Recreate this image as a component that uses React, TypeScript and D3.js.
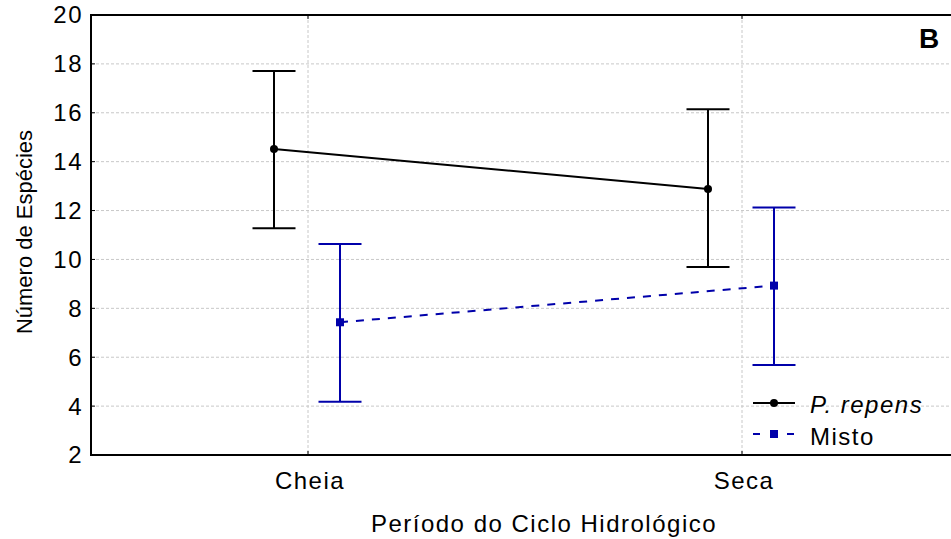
import React from "react";
import * as d3 from "d3";

const categories = ["Cheia", "Seca"];
const yTicks = [2, 4, 6, 8, 10, 12, 14, 16, 18, 20];
const repensMean = [14.52, 12.88];
const repensLow = [11.28, 9.69];
const repensHigh = [17.71, 16.14];
const mistoMean = [7.43, 8.93];
const mistoLow = [4.18, 5.68];
const mistoHigh = [10.63, 12.13];
const seriesNames = ["P. repens", "Misto"];

const W = 951;
const H = 539;
const left = 91;
const right = 959;
const top = 15;
const bottom = 455;
const FONT = "Arial, 'Liberation Sans', sans-serif";
const BLUE = "#0000AA";

export default function App() {
  const x = d3.scalePoint<string>().domain(categories).range([left, right]).padding(0.5);
  const y = d3.scaleLinear().domain([2, 20]).range([bottom, top]);
  const off = [-34, 32];
  const capW = 21.5;

  const lineGen = d3
    .line<number>()
    .x((_, i) => (x(categories[i]) as number))
    .y((d) => y(d));

  const series = [
    { mean: repensMean, low: repensLow, high: repensHigh, color: "#000", dash: undefined, marker: "circle", off: off[0] },
    { mean: mistoMean, low: mistoLow, high: mistoHigh, color: BLUE, dash: "8,8", marker: "square", off: off[1] },
  ];

  return (
    <svg
      width={W}
      height={H}
      style={{ position: "absolute", left: 0, top: 0, background: "#fff" }}
      fontFamily={FONT}
    >
      {/* grid */}
      {yTicks
        .filter((t) => t > 2 && t < 20)
        .map((t) => (
          <line key={"gy" + t} x1={left} x2={right} y1={y(t)} y2={y(t)} stroke="#c8c8c8" strokeWidth={1} strokeDasharray="3,2" />
        ))}
      {categories.map((c) => (
        <line key={"gx" + c} x1={x(c)} x2={x(c)} y1={top} y2={bottom} stroke="#c8c8c8" strokeWidth={1} strokeDasharray="3,2" />
      ))}

      {/* ticks */}
      {yTicks.map((t) => (
        <line key={"ty" + t} x1={left} x2={left + 4} y1={y(t)} y2={y(t)} stroke="#000" strokeWidth={1} />
      ))}
      {categories.map((c) => (
        <g key={"tx" + c}>
          <line x1={x(c)} x2={x(c)} y1={bottom} y2={bottom - 4} stroke="#000" strokeWidth={1} />
          <line x1={x(c)} x2={x(c)} y1={top} y2={top + 4} stroke="#000" strokeWidth={1} />
        </g>
      ))}

      {/* frame */}
      <rect x={left} y={top} width={right - left} height={bottom - top} fill="none" stroke="#000" strokeWidth={2} />

      {/* series */}
      {series.map((s, si) => {
        const xs = categories.map((c) => (x(c) as number) + s.off);
        const path = d3
          .line<number>()
          .x((_, i) => xs[i])
          .y((d) => y(d))(s.mean) as string;
        return (
          <g key={"s" + si}>
            <path d={path} fill="none" stroke={s.color} strokeWidth={2} strokeDasharray={s.dash} />
            {s.mean.map((m, i) => (
              <g key={i}>
                <line x1={xs[i]} x2={xs[i]} y1={y(s.low[i])} y2={y(s.high[i])} stroke={s.color} strokeWidth={2} />
                <line x1={xs[i] - capW} x2={xs[i] + capW} y1={y(s.low[i])} y2={y(s.low[i])} stroke={s.color} strokeWidth={2} />
                <line x1={xs[i] - capW} x2={xs[i] + capW} y1={y(s.high[i])} y2={y(s.high[i])} stroke={s.color} strokeWidth={2} />
                {s.marker === "circle" ? (
                  <circle cx={xs[i]} cy={y(m)} r={4} fill={s.color} />
                ) : (
                  <rect x={xs[i] - 4} y={y(m) - 4} width={8} height={8} fill={s.color} />
                )}
              </g>
            ))}
          </g>
        );
      })}

      {/* y tick labels */}
      {yTicks.map((t) => (
        <text key={"yl" + t} x={83} y={y(t)} dy="0.35em" textAnchor="end" fontSize={24} letterSpacing={1.5} fill="#000">
          {t}
        </text>
      ))}
      {/* x tick labels */}
      {categories.map((c) => (
        <text key={"xl" + c} x={(x(c) as number) + 2} y={489} textAnchor="middle" fontSize={24} letterSpacing={1.5} fill="#000">
          {c}
        </text>
      ))}

      {/* axis titles */}
      <text x={544} y={532} textAnchor="middle" fontSize={24} letterSpacing={1.5} fill="#000">
        Período do Ciclo Hidrológico
      </text>
      <text transform="translate(32,232) rotate(-90)" textAnchor="middle" fontSize={22} fill="#000">
        Número de Espécies
      </text>

      {/* panel label */}
      <text x={919} y={48} fontSize={28} fontWeight="bold" fill="#000">
        B
      </text>

      {/* legend */}
      <g>
        <line x1={753} x2={795} y1={403} y2={403} stroke="#000" strokeWidth={2} />
        <circle cx={774} cy={403} r={4} fill="#000" />
        <text x={810} y={413} fontSize={24} fontStyle="italic" letterSpacing={1.5} fill="#000">
          {seriesNames[0]}
        </text>
        <line x1={753} x2={795} y1={434} y2={434} stroke={BLUE} strokeWidth={2} strokeDasharray="7,10" strokeDashoffset={0} />
        <rect x={770} y={430} width={8} height={8} fill={BLUE} />
        <text x={810} y={445} fontSize={24} letterSpacing={1.5} fill="#000">
          {seriesNames[1]}
        </text>
      </g>
    </svg>
  );
}
